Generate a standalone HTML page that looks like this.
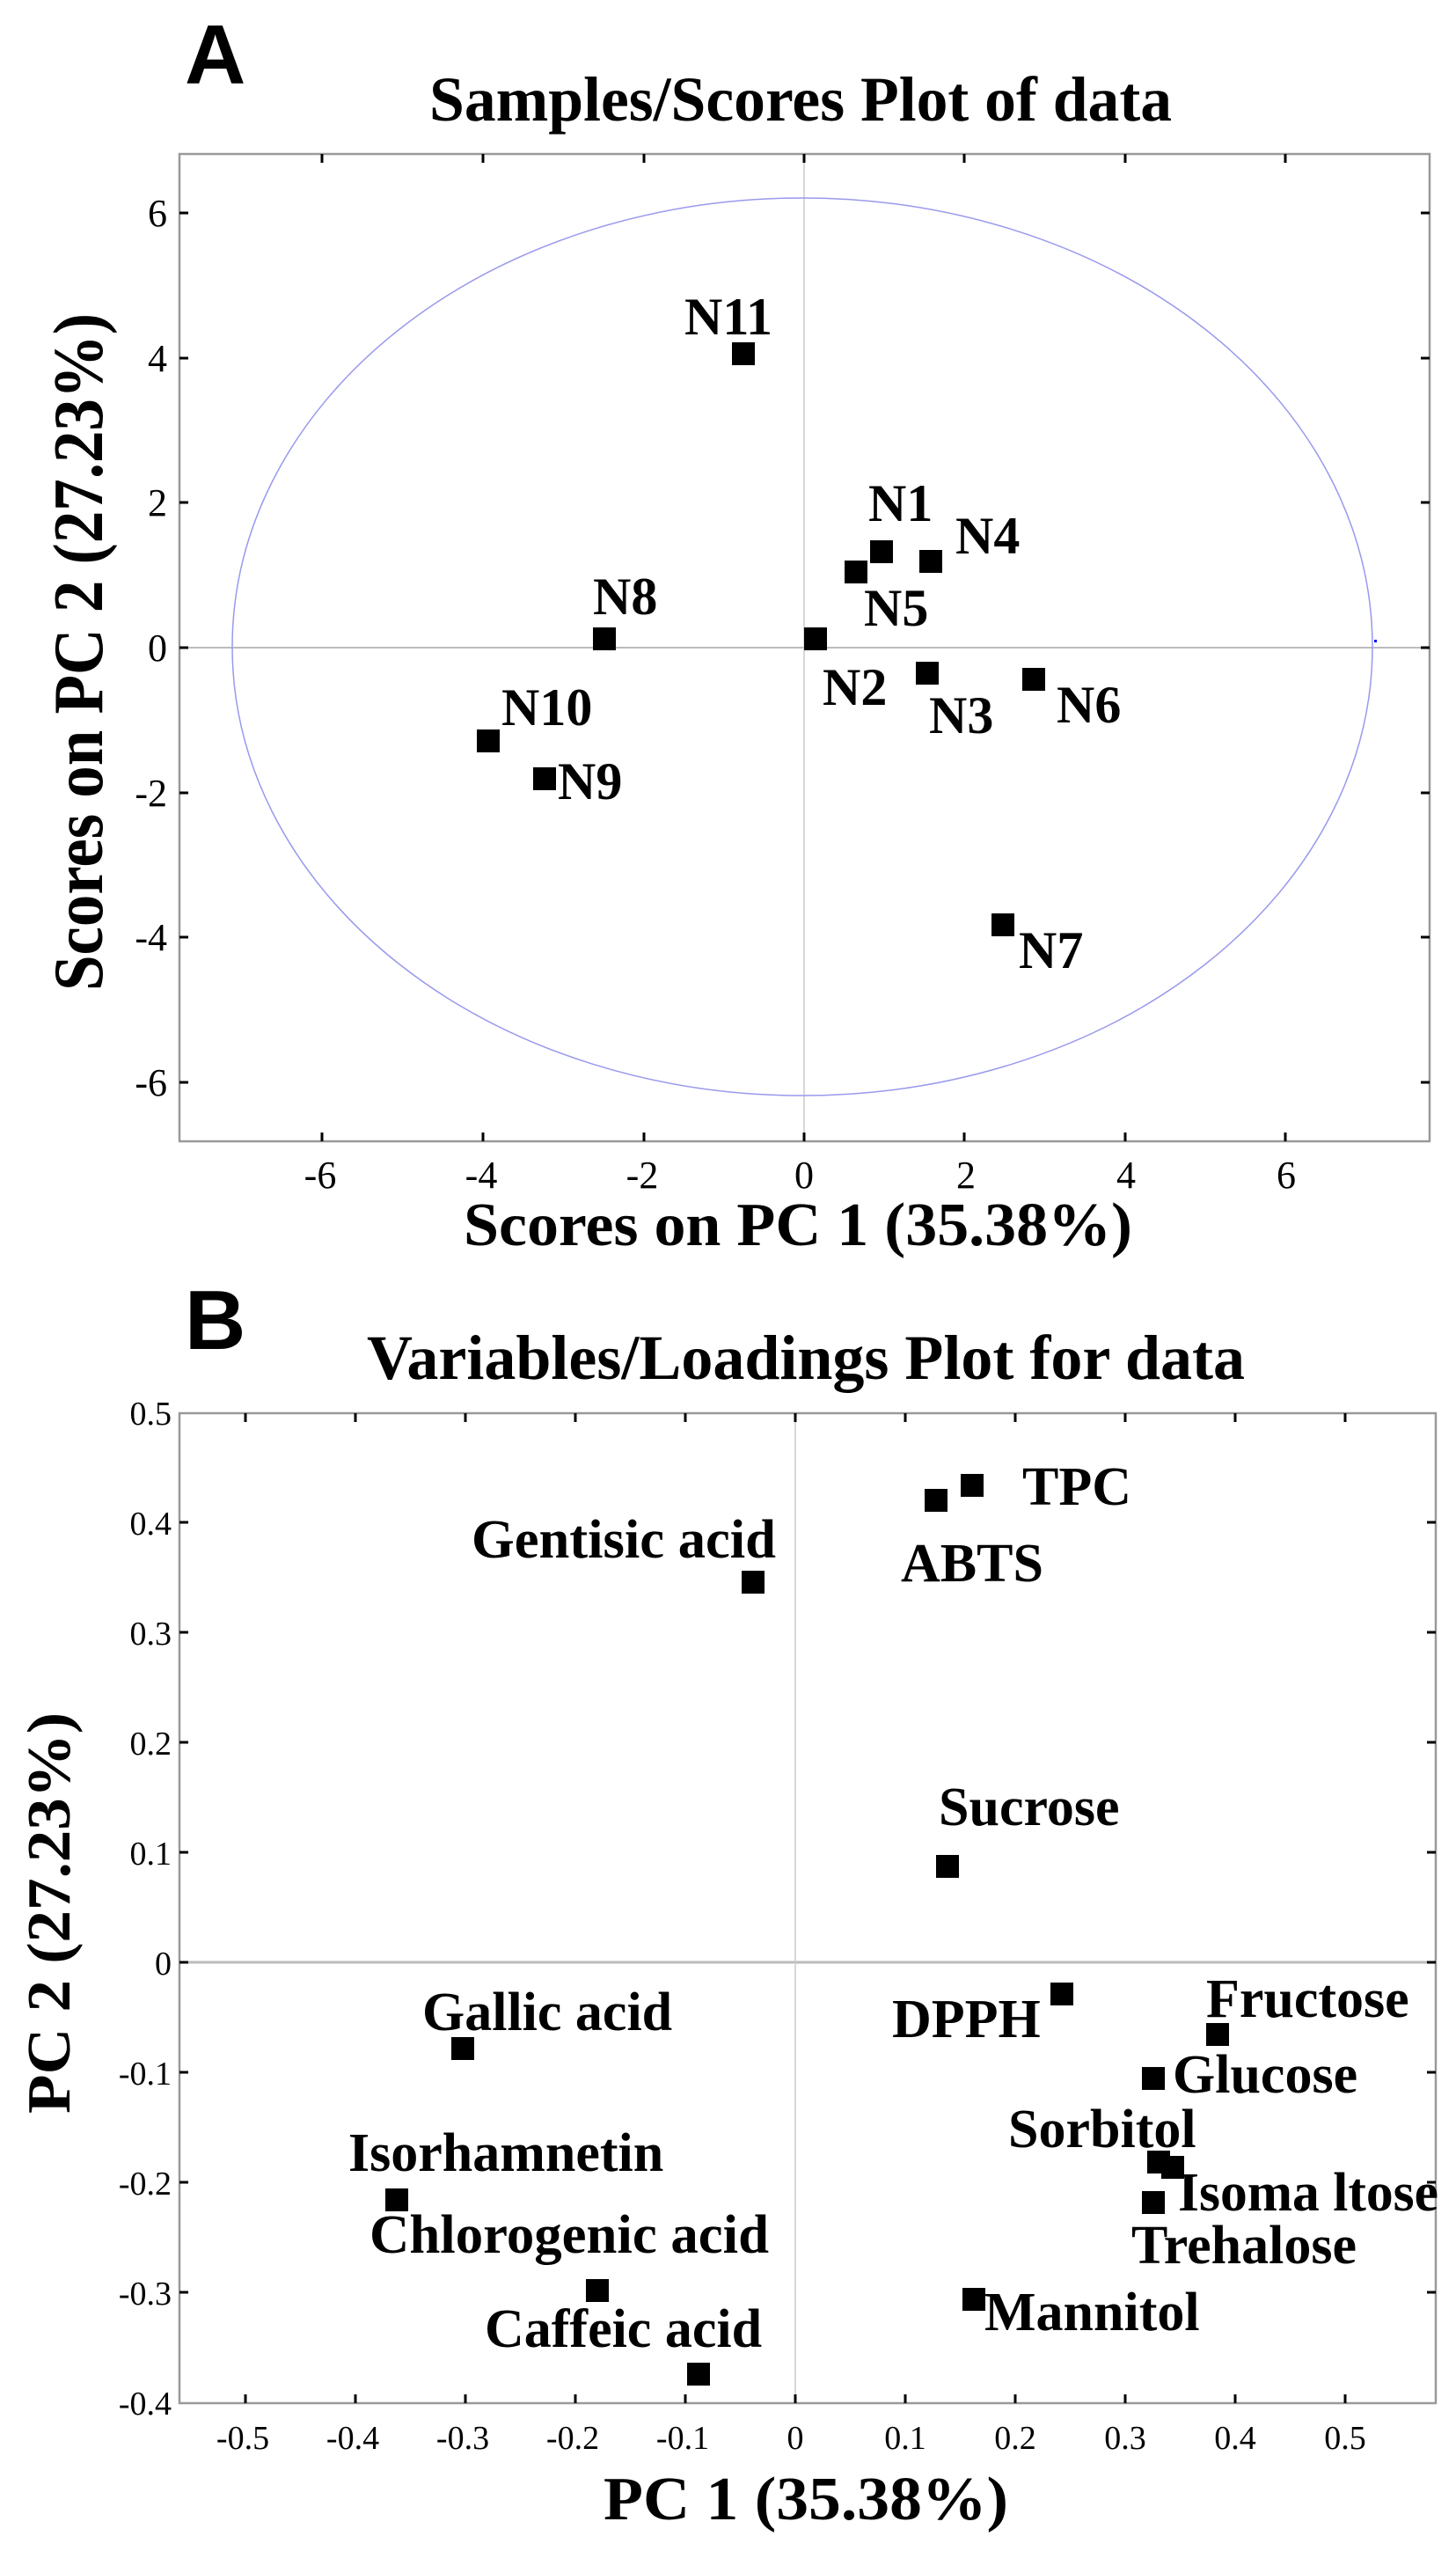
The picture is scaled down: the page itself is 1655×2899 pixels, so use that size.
<!DOCTYPE html>
<html><head><meta charset="utf-8"><style>
html,body{margin:0;padding:0;background:#fff;}
svg{display:block;}
text{font-family:"Liberation Serif",serif;fill:#000;}
.lb{font-family:"Liberation Serif",serif;font-weight:bold;font-size:60px;}
.tk{font-family:"Liberation Serif",serif;font-size:44px;}
.tkb{font-family:"Liberation Serif",serif;font-size:38px;}
</style></head><body>
<svg width="1655" height="2899" viewBox="0 0 1655 2899" xmlns="http://www.w3.org/2000/svg">
<rect width="1655" height="2899" fill="#fff"/>
<!-- ===== Plot A ===== -->
<text x="210" y="95" style="font-family:'Liberation Sans',sans-serif;font-weight:bold;font-size:96px">A</text>
<text x="488" y="137" font-weight="bold" font-size="72" textLength="844" lengthAdjust="spacingAndGlyphs">Samples/Scores Plot of data</text>
<line x1="204" y1="736" x2="1625" y2="736" stroke="#bbb" stroke-width="2"/>
<line x1="914" y1="175" x2="914" y2="1297" stroke="#ccc" stroke-width="1.5"/>
<ellipse cx="912" cy="735" rx="648" ry="510" fill="none" stroke="#9999ee" stroke-width="1.5"/>
<rect x="1562" y="727" width="3" height="3" fill="#0000ff"/>
<rect x="204" y="175" width="1421" height="1122" fill="none" stroke="#999" stroke-width="2.5"/>
<g stroke="#000" stroke-width="3">
<line x1="366" y1="175" x2="366" y2="185"/><line x1="549" y1="175" x2="549" y2="185"/><line x1="732" y1="175" x2="732" y2="185"/><line x1="914" y1="175" x2="914" y2="185"/><line x1="1096" y1="175" x2="1096" y2="185"/><line x1="1279" y1="175" x2="1279" y2="185"/><line x1="1461" y1="175" x2="1461" y2="185"/>
<line x1="366" y1="1297" x2="366" y2="1287"/><line x1="549" y1="1297" x2="549" y2="1287"/><line x1="732" y1="1297" x2="732" y2="1287"/><line x1="914" y1="1297" x2="914" y2="1287"/><line x1="1096" y1="1297" x2="1096" y2="1287"/><line x1="1279" y1="1297" x2="1279" y2="1287"/><line x1="1461" y1="1297" x2="1461" y2="1287"/>
<line x1="204" y1="242" x2="214" y2="242"/><line x1="204" y1="407" x2="214" y2="407"/><line x1="204" y1="571" x2="214" y2="571"/><line x1="204" y1="736" x2="214" y2="736"/><line x1="204" y1="901" x2="214" y2="901"/><line x1="204" y1="1065" x2="214" y2="1065"/><line x1="204" y1="1230" x2="214" y2="1230"/>
<line x1="1625" y1="242" x2="1615" y2="242"/><line x1="1625" y1="407" x2="1615" y2="407"/><line x1="1625" y1="571" x2="1615" y2="571"/><line x1="1625" y1="736" x2="1615" y2="736"/><line x1="1625" y1="901" x2="1615" y2="901"/><line x1="1625" y1="1065" x2="1615" y2="1065"/><line x1="1625" y1="1230" x2="1615" y2="1230"/>
</g>
<g class="tk" text-anchor="end">
<text x="190" y="257">6</text><text x="190" y="422">4</text><text x="190" y="586">2</text><text x="190" y="751">0</text><text x="190" y="916">-2</text><text x="190" y="1080">-4</text><text x="190" y="1245">-6</text>
</g>
<g class="tk" text-anchor="middle">
<text x="364" y="1350">-6</text><text x="547" y="1350">-4</text><text x="730" y="1350">-2</text><text x="914" y="1350">0</text><text x="1098" y="1350">2</text><text x="1280" y="1350">4</text><text x="1462" y="1350">6</text>
</g>
<text x="527" y="1415" font-weight="bold" font-size="70" textLength="760" lengthAdjust="spacingAndGlyphs">Scores on PC 1 (35.38%)</text>
<text transform="translate(116,741) rotate(-90)" text-anchor="middle" font-weight="bold" font-size="80" textLength="770" lengthAdjust="spacingAndGlyphs">Scores on PC 2 (27.23%)</text>
<g fill="#000">
<rect x="832" y="389" width="26" height="26"/>
<rect x="989" y="614" width="26" height="26"/>
<rect x="1045" y="625" width="26" height="26"/>
<rect x="960" y="637" width="26" height="26"/>
<rect x="914" y="713" width="26" height="26"/>
<rect x="1041" y="752" width="26" height="26"/>
<rect x="1162" y="759" width="26" height="26"/>
<rect x="674" y="713" width="26" height="26"/>
<rect x="542" y="829" width="26" height="26"/>
<rect x="606" y="872" width="26" height="26"/>
<rect x="1127" y="1038" width="26" height="26"/>
</g>
<g class="lb">
<text x="778" y="380">N11</text>
<text x="987" y="592">N1</text>
<text x="1086" y="629">N4</text>
<text x="982" y="711">N5</text>
<text x="935" y="801">N2</text>
<text x="1056" y="833">N3</text>
<text x="1201" y="821">N6</text>
<text x="674" y="698">N8</text>
<text x="570" y="824">N10</text>
<text x="634" y="908">N9</text>
<text x="1158" y="1100">N7</text>
</g>
<!-- ===== Plot B ===== -->
<text x="210" y="1533" style="font-family:'Liberation Sans',sans-serif;font-weight:bold;font-size:96px">B</text>
<text x="417" y="1567" font-weight="bold" font-size="72" textLength="998" lengthAdjust="spacingAndGlyphs">Variables/Loadings Plot for data</text>
<line x1="204" y1="2230" x2="1632" y2="2230" stroke="#bbb" stroke-width="3"/>
<line x1="904" y1="1606" x2="904" y2="2731" stroke="#ccc" stroke-width="1.5"/>
<rect x="204" y="1606" width="1428" height="1125" fill="none" stroke="#999" stroke-width="2.5"/>
<g stroke="#000" stroke-width="3">
<line x1="279" y1="1606" x2="279" y2="1616"/><line x1="404" y1="1606" x2="404" y2="1616"/><line x1="529" y1="1606" x2="529" y2="1616"/><line x1="654" y1="1606" x2="654" y2="1616"/><line x1="779" y1="1606" x2="779" y2="1616"/><line x1="904" y1="1606" x2="904" y2="1616"/><line x1="1029" y1="1606" x2="1029" y2="1616"/><line x1="1154" y1="1606" x2="1154" y2="1616"/><line x1="1279" y1="1606" x2="1279" y2="1616"/><line x1="1404" y1="1606" x2="1404" y2="1616"/><line x1="1529" y1="1606" x2="1529" y2="1616"/>
<line x1="279" y1="2731" x2="279" y2="2721"/><line x1="404" y1="2731" x2="404" y2="2721"/><line x1="529" y1="2731" x2="529" y2="2721"/><line x1="654" y1="2731" x2="654" y2="2721"/><line x1="779" y1="2731" x2="779" y2="2721"/><line x1="904" y1="2731" x2="904" y2="2721"/><line x1="1029" y1="2731" x2="1029" y2="2721"/><line x1="1154" y1="2731" x2="1154" y2="2721"/><line x1="1279" y1="2731" x2="1279" y2="2721"/><line x1="1404" y1="2731" x2="1404" y2="2721"/><line x1="1529" y1="2731" x2="1529" y2="2721"/>
<line x1="204" y1="1730" x2="214" y2="1730"/><line x1="204" y1="1855" x2="214" y2="1855"/><line x1="204" y1="1980" x2="214" y2="1980"/><line x1="204" y1="2105" x2="214" y2="2105"/><line x1="204" y1="2230" x2="214" y2="2230"/><line x1="204" y1="2355" x2="214" y2="2355"/><line x1="204" y1="2480" x2="214" y2="2480"/><line x1="204" y1="2605" x2="214" y2="2605"/>
<line x1="1632" y1="1730" x2="1622" y2="1730"/><line x1="1632" y1="1855" x2="1622" y2="1855"/><line x1="1632" y1="1980" x2="1622" y2="1980"/><line x1="1632" y1="2105" x2="1622" y2="2105"/><line x1="1632" y1="2230" x2="1622" y2="2230"/><line x1="1632" y1="2355" x2="1622" y2="2355"/><line x1="1632" y1="2480" x2="1622" y2="2480"/><line x1="1632" y1="2605" x2="1622" y2="2605"/>
</g>
<g class="tkb" text-anchor="end">
<text x="195" y="1619">0.5</text><text x="195" y="1744">0.4</text><text x="195" y="1869">0.3</text><text x="195" y="1994">0.2</text><text x="195" y="2119">0.1</text><text x="195" y="2244">0</text><text x="195" y="2369">-0.1</text><text x="195" y="2494">-0.2</text><text x="195" y="2619">-0.3</text><text x="195" y="2744">-0.4</text>
</g>
<g class="tkb" text-anchor="middle">
<text x="276" y="2783">-0.5</text><text x="401" y="2783">-0.4</text><text x="526" y="2783">-0.3</text><text x="651" y="2783">-0.2</text><text x="776" y="2783">-0.1</text><text x="904" y="2783">0</text><text x="1029" y="2783">0.1</text><text x="1154" y="2783">0.2</text><text x="1279" y="2783">0.3</text><text x="1404" y="2783">0.4</text><text x="1529" y="2783">0.5</text>
</g>
<text x="686" y="2863" font-weight="bold" font-size="70" textLength="460" lengthAdjust="spacingAndGlyphs">PC 1 (35.38%)</text>
<text transform="translate(79,2174) rotate(-90)" text-anchor="middle" font-weight="bold" font-size="70" textLength="456" lengthAdjust="spacingAndGlyphs">PC 2 (27.23%)</text>
<g fill="#000">
<rect x="843" y="1785" width="26" height="26"/>
<rect x="1092" y="1675" width="26" height="26"/>
<rect x="1051" y="1692" width="26" height="26"/>
<rect x="1064" y="2108" width="26" height="26"/>
<rect x="513" y="2315" width="26" height="26"/>
<rect x="1194" y="2253" width="26" height="26"/>
<rect x="1371" y="2299" width="26" height="26"/>
<rect x="1298" y="2349" width="26" height="26"/>
<rect x="1304" y="2444" width="26" height="26"/>
<rect x="1320" y="2450" width="26" height="26"/>
<rect x="1298" y="2490" width="26" height="26"/>
<rect x="438" y="2487" width="26" height="26"/>
<rect x="666" y="2590" width="26" height="26"/>
<rect x="781" y="2685" width="26" height="26"/>
<rect x="1094" y="2600" width="26" height="26"/>
</g>
<g class="lb" font-size="62" style="font-size:62px">
<text x="536" y="1770" textLength="346" lengthAdjust="spacingAndGlyphs">Gentisic acid</text>
<text x="1162" y="1710">TPC</text>
<text x="1024" y="1797">ABTS</text>
<text x="1067" y="2074">Sucrose</text>
<text x="480" y="2307">Gallic acid</text>
<text x="1014" y="2315">DPPH</text>
<text x="1371" y="2292">Fructose</text>
<text x="1333" y="2378">Glucose</text>
<text x="1146" y="2440">Sorbitol</text>
<text x="1339" y="2512" textLength="296" lengthAdjust="spacingAndGlyphs">Isoma ltose</text>
<text x="1286" y="2572">Trehalose</text>
<text x="396" y="2467">Isorhamnetin</text>
<text x="420" y="2560" textLength="454" lengthAdjust="spacingAndGlyphs">Chlorogenic acid</text>
<text x="551" y="2667">Caffeic acid</text>
<text x="1119" y="2648">Mannitol</text>
</g>
</svg>
</body></html>
